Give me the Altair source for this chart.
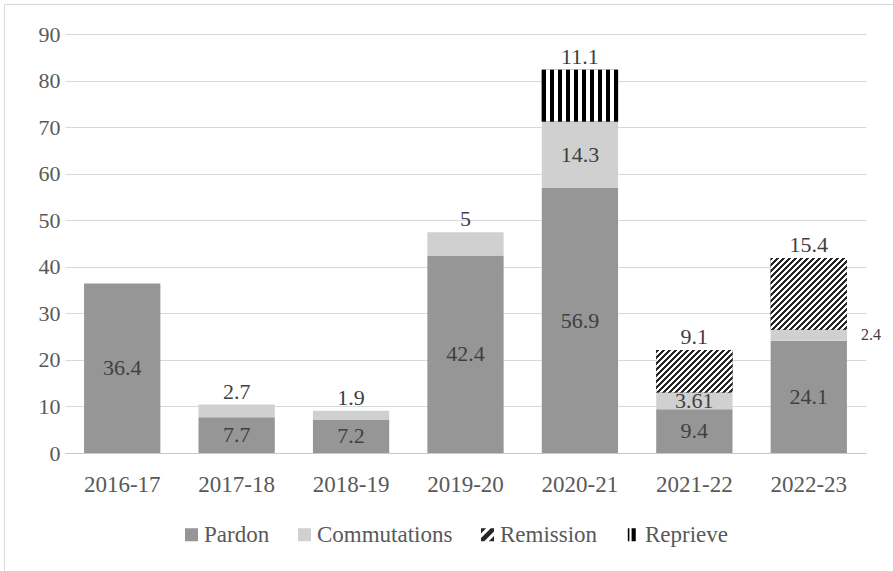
import math
import altair as alt
import pandas as pd

# ---------------- data ----------------
years = ["2016-17", "2017-18", "2018-19", "2019-20", "2020-21", "2021-22", "2022-23"]
series_names = ["Pardon", "Commutations", "Remission", "Reprieve"]
pardon = [36.4, 7.7, 7.2, 42.4, 56.9, 9.4, 24.1]
commutations = [0, 2.7, 1.9, 5, 14.3, 3.61, 2.4]
remission = [0, 0, 0, 0, 0, 9.1, 15.4]
reprieve = [0, 0, 0, 0, 11.1, 0, 0]
# where each value label sits
pos_pardon = ["mid"] * 7
pos_commutations = ["", "top", "top", "top", "mid", "mid", "right"]
pos_remission = ["", "", "", "", "", "top", "top"]
pos_reprieve = ["", "", "", "", "top", "", ""]

# ---------------- styles ----------------
FONT = "Liberation Serif"
PARDON_C = "#969696"
COMM_C = "#d0d0d0"
DARK = "#262626"
LABEL_C = "#404040"
AXIS_C = "#595959"
GRID_C = "#d9d9d9"

PLOT_W = 801
PLOT_H = 419
Y_MAX = 90

rows = []
for si, (name, vals, poss) in enumerate(zip(
        series_names,
        [pardon, commutations, remission, reprieve],
        [pos_pardon, pos_commutations, pos_remission, pos_reprieve])):
    for y, v, p in zip(years, vals, poss):
        if v > 0:
            rows.append({"year": y, "series": name, "value": v, "order": si,
                         "pos": p, "label": f"{v:g}"})
df = pd.DataFrame(rows)

# legend symbol shapes (unit square -1..1)
remission_icon = ("M-1,-1L-0.2,-1L-1,-0.2Z "
                  "M0.5,-1L1,-1L1,-0.5L-0.5,1L-1,1L-1,0.5Z "
                  "M1,0.2L1,1L0.2,1Z")
reprieve_icon = "M-0.72,-1L-0.48,-1L-0.48,1L-0.72,1Z M-0.14,-1L0.5,-1L0.5,1L-0.14,1Z"

color_scale = alt.Scale(domain=series_names, range=[PARDON_C, COMM_C, DARK, "#000000"])
shape_scale = alt.Scale(domain=series_names, range=["square", "square", remission_icon, reprieve_icon])

legend = alt.Legend(orient="none", legendX=115, legendY=489, direction="horizontal",
                    title=None, symbolSize=169, labelFontSize=23, labelFont=FONT,
                    labelColor=AXIS_C, columnPadding=23, labelOffset=1,
                    symbolStrokeWidth=0, padding=0, labelLimit=0)

x_enc = alt.X("year:N", sort=years,
              scale=alt.Scale(paddingInner=1 / 3, paddingOuter=1 / 6),
              axis=alt.Axis(labelAngle=0, ticks=False, domainColor="#c8c8c8",
                            labelFontSize=23, labelFont=FONT, labelColor=AXIS_C,
                            labelPadding=20, title=None))
y_enc = alt.Y("y0:Q", scale=alt.Scale(domain=[0, Y_MAX], nice=False),
              axis=alt.Axis(values=list(range(0, 91, 10)), grid=True, gridColor=GRID_C,
                            domain=False, ticks=False, labelFontSize=22, labelFont=FONT,
                            labelColor=AXIS_C, labelPadding=5, title=None))

base = alt.Chart(df).transform_stack(
    stack="value", groupby=["year"], as_=["y0", "y1"],
    sort=[alt.SortField("order", order="ascending")]
).transform_calculate(ymid="(datum.y0 + datum.y1) / 2")

# hidden points that carry the legend shapes
points = base.mark_point(filled=True, size=4, opacity=1).encode(
    x=x_enc, y=alt.Y("ymid:Q"),
    color=alt.Color("series:N", scale=color_scale, legend=legend),
    shape=alt.Shape("series:N", scale=shape_scale, legend=legend),
)

bars = base.mark_bar().encode(
    x=x_enc, y=y_enc, y2="y1:Q",
    color=alt.Color("series:N", scale=color_scale, legend=legend),
)

# pattern fills via hard-stop gradients
band_w = PLOT_W / len(years) * (2 / 3)
px_per_unit = PLOT_H / Y_MAX


def diag_gradient(value, period=6.0, dark_frac=0.55):
    w = band_w
    h = value * px_per_unit
    k = (w + h) / (w * w + h * h)
    total = w + h
    stops = []
    n = int(math.ceil(total / period)) + 1
    for i in range(n):
        s = min(1.0, i * period / total)
        e = min(1.0, (i + dark_frac) * period / total)
        nx = min(1.0, (i + 1) * period / total)
        stops += [alt.GradientStop(color=DARK, offset=s), alt.GradientStop(color=DARK, offset=e),
                  alt.GradientStop(color="#ffffff", offset=e), alt.GradientStop(color="#ffffff", offset=nx)]
        if nx >= 1.0:
            break
    return alt.LinearGradient(gradient="linear", stops=stops, x1=0, y1=0, x2=k * w, y2=k * h)


def vert_gradient(n_black=10, black_px=4.0):
    w = band_w
    gap = (w - n_black * black_px) / (n_black - 1)
    stops = []
    for i in range(n_black):
        s = i * (black_px + gap) / w
        e = min(1.0, s + black_px / w)
        nx = min(1.0, (i + 1) * (black_px + gap) / w)
        stops += [alt.GradientStop(color="#000000", offset=s), alt.GradientStop(color="#000000", offset=e)]
        if i < n_black - 1:
            stops += [alt.GradientStop(color="#ffffff", offset=e), alt.GradientStop(color="#ffffff", offset=nx)]
    return alt.LinearGradient(gradient="linear", stops=stops, x1=0, y1=0, x2=1, y2=0)


pattern_layers = []
for y, v in zip(years, remission):
    if v > 0:
        pattern_layers.append(
            base.transform_filter((alt.datum.series == "Remission") & (alt.datum.year == y))
            .mark_bar(fill=diag_gradient(v))
            .encode(x=x_enc, y=y_enc, y2="y1:Q")
        )
for y, v in zip(years, reprieve):
    if v > 0:
        pattern_layers.append(
            base.transform_filter((alt.datum.series == "Reprieve") & (alt.datum.year == y))
            .mark_bar(fill=vert_gradient())
            .encode(x=x_enc, y=y_enc, y2="y1:Q")
        )

txt_mid = base.transform_filter(alt.datum.pos == "mid").mark_text(
    font=FONT, fontSize=22, color=LABEL_C, baseline="middle"
).encode(x=x_enc, y="ymid:Q", text="label:N")

txt_top = base.transform_filter(alt.datum.pos == "top").mark_text(
    font=FONT, fontSize=22, color=LABEL_C, baseline="alphabetic", dy=-6
).encode(x=x_enc, y="y1:Q", text="label:N")

txt_right = base.transform_filter(alt.datum.pos == "right").mark_text(
    font=FONT, fontSize=16, color=LABEL_C, baseline="middle", align="left",
    dx=band_w / 2 + 14
).encode(x=x_enc, y="ymid:Q", text="label:N")

frame = alt.Chart(pd.DataFrame({"f": [0]})).mark_rect(
    fillOpacity=0, stroke=GRID_C, strokeWidth=1
).encode(x=alt.value(-60.5), x2=alt.value(860), y=alt.value(-29.5), y2=alt.value(560))

chart = alt.layer(
    frame, points, bars, *pattern_layers, txt_mid, txt_top, txt_right
).properties(
    width=PLOT_W, height=PLOT_H,
    padding={"left": 65, "top": 34, "right": 27, "bottom": 118},
    autosize=alt.AutoSizeParams(type="none"),
    background="#ffffff",
).configure_view(stroke=None)

chart.save("out.html", embed_options={"renderer": "svg", "actions": False})
